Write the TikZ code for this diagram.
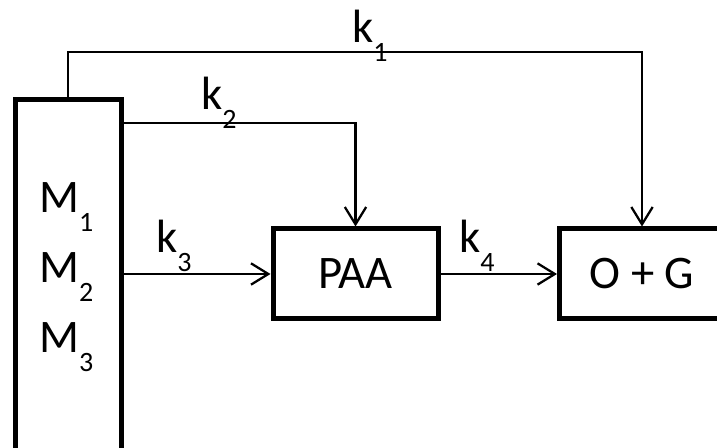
\documentclass[tikz,border=0pt]{standalone}
\usepackage{fontspec}
\setmainfont{Carlito}
\usetikzlibrary{arrows.meta}
\newcommand\sub[1]{\raisebox{-14pt}{\fontsize{21}{21}\selectfont #1}}

\begin{document}
\begin{tikzpicture}[x=0.75pt, y=-0.75pt, line width=1.7pt,
  font=\fontsize{35}{42}\selectfont,
  box/.style={draw, line width=3.75pt, minimum width=123.75pt, minimum height=67.5pt, inner sep=0pt},
  flow/.style={-{Straight Barb[length=13pt,width=16pt]}},
  lab/.style={anchor=base west, inner sep=0pt}]
  \useasboundingbox (0,0) rectangle (717,448);

  \node[box, minimum width=79.5pt, minimum height=300pt, anchor=north] (mbox) at (68,97.5) {};
  \foreach \i/\y in {1/213, 2/283, 3/353}
    \node[lab] (m\i) at (38,\y) {M\sub{\i}};

  \node[box] (paa) at (355.5,274) {PAA};
  \node[box] (og) at (642,274) {O + G};

  \draw[flow] (mbox.north) -- ++(0,-45.5) -| (og.north);
  \draw[flow] (mbox.north east) ++(0,25.5) -| (paa.north);
  \draw[flow] (mbox.east |- paa.west) -- (paa.west);
  \draw[flow] (paa) -- (og);

  \node[lab] (k1) at (351,43) {k\sub{1}};
  \node[lab] (k2) at (200,110) {k\sub{2}};
  \node[lab] (k3) at (155,253) {k\sub{3}};
  \node[lab] (k4) at (458,253) {k\sub{4}};
\end{tikzpicture}
\end{document}
